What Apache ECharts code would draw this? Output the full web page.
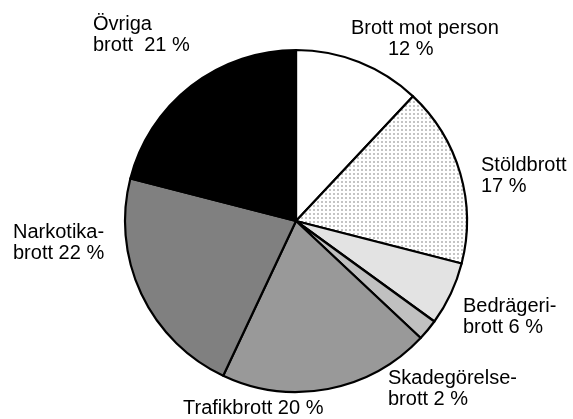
<!DOCTYPE html>
<html>
<head>
<meta charset="utf-8">
<script src="https://cdn.jsdelivr.net/npm/echarts@6/dist/echarts.min.js"></script>
<style>html,body{margin:0;padding:0;background:#fff}#c{width:573px;height:419px}</style>
</head>
<body>
<div id="c"></div>
<script>
const categories = ['Brott mot person', 'Stöldbrott', 'Bedrägeribrott', 'Skadegörelsebrott', 'Trafikbrott', 'Narkotikabrott', 'Övriga brott'];
const values = [12, 17, 6, 2, 20, 22, 21];
const labelPrefixes = ['Brott mot person\n', 'Stöldbrott\n', 'Bedrägeri-\nbrott ', 'Skadegörelse-\nbrott ', 'Trafikbrott ', 'Narkotika-\nbrott ', 'Övriga\nbrott  '];

// styling (not data)
const labelPos = [[351, 18], [481, 155], [463, 296], [388, 368], [183, 398], [13, 222], [93, 14]];
const FONT = 'Liberation Sans';
const FS = 20;
const LH = 21;

const dotCanvas = document.createElement('canvas');
dotCanvas.width = 4; dotCanvas.height = 4;
const dctx = dotCanvas.getContext('2d');
dctx.fillStyle = '#ffffff'; dctx.fillRect(0, 0, 4, 4);
dctx.fillStyle = '#c4c4c4'; dctx.fillRect(1, 1, 2, 2);

const fills = ['#ffffff', {image: dotCanvas, repeat: 'repeat'}, '#e3e3e3', '#c0c0c0', '#999999', '#808080', '#000000'];

const chart = echarts.init(document.getElementById('c'), null, {renderer: 'canvas'});
chart.setOption({
  animation: false,
  series: [{
    type: 'pie',
    center: [296, 221],
    radius: 171,
    startAngle: 90,
    clockwise: true,
    avoidLabelOverlap: false,
    itemStyle: {borderColor: '#000', borderWidth: 2.2},
    label: {
      show: true,
      position: 'outside',
      fontFamily: FONT,
      fontSize: FS,
      lineHeight: LH,
      color: '#000',
      align: 'left'
    },
    labelLine: {show: false},
    labelLayout: function (p) {
      const pos = labelPos[p.dataIndex];
      return {x: pos[0], y: pos[1], align: 'left', verticalAlign: 'top'};
    },
    emphasis: {disabled: true},
    data: categories.map(function (name, i) {
      const item = {
        name: name,
        value: values[i],
        itemStyle: {color: fills[i]},
        label: {formatter: labelPrefixes[i] + values[i] + ' %'}
      };
      if (i === 0) {
        item.label = {
          formatter: '{a|' + labelPrefixes[i].replace('\n', '') + '}\n{b|' + values[i] + ' %}',
          rich: {
            a: {fontFamily: FONT, fontSize: FS, lineHeight: LH, color: '#000'},
            b: {fontFamily: FONT, fontSize: FS, lineHeight: LH, color: '#000', padding: [0, 0, 0, 37]}
          }
        };
      }
      return item;
    })
  }]
});
</script>
</body>
</html>
